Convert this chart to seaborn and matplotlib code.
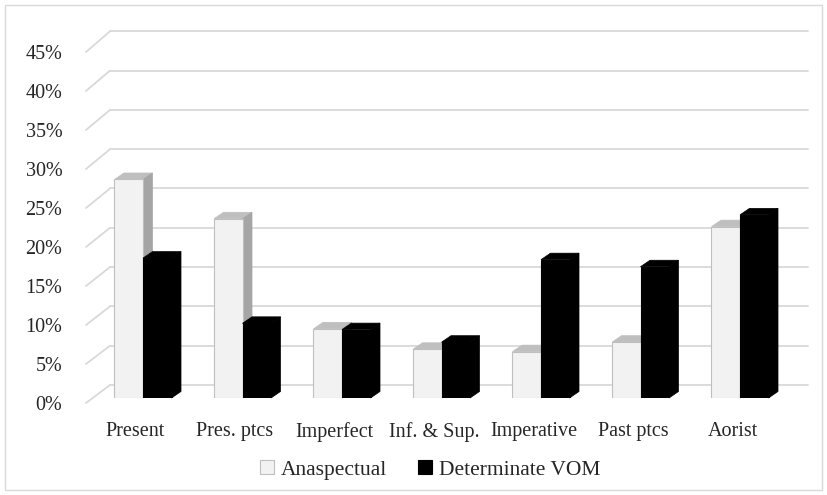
import matplotlib
matplotlib.use("Agg")
import matplotlib.pyplot as plt
import matplotlib.transforms as mtransforms
from matplotlib.patches import Polygon, Patch, Rectangle
import seaborn as sns
import pandas as pd

categories = ["Present", "Pres. ptcs", "Imperfect", "Inf. & Sup.", "Imperative", "Past ptcs", "Aorist"]
anaspectual = [27.8, 22.8, 8.8, 6.2, 5.9, 7.1, 21.8]
determinate = [17.8, 9.5, 8.7, 7.1, 17.6, 16.7, 23.3]
series_names = ["Anaspectual", "Determinate VOM"]
yticks = [0, 5, 10, 15, 20, 25, 30, 35, 40, 45]
ytick_labels = [f"{v}%" for v in yticks]

df = pd.DataFrame({
    "tense": categories * 2,
    "value": anaspectual + determinate,
    "type": [series_names[0]] * len(categories) + [series_names[1]] * len(categories),
})

sns.set_style("white")
plt.rcParams["font.family"] = ["Liberation Serif", "DejaVu Serif"]

W, H = 827, 495
fig = plt.figure(figsize=(W / 100, H / 100), dpi=100)
PX_PER_UNIT_Y = 7.86
PX_PER_CAT = 99.5
x0_px, x1_px = 86, 808
ybot_px = 398
ax = fig.add_axes([x0_px / W, (H - ybot_px) / H, (x1_px - x0_px) / W, 45 * PX_PER_UNIT_Y / H])

ana_col, det_col = "#f2f2f2", "#000000"
sns.barplot(data=df, x="tense", y="value", hue="type", order=categories,
            hue_order=series_names, palette={series_names[0]: ana_col, series_names[1]: det_col},
            width=0.573, dodge=True, ax=ax, legend=False, saturation=1)

xl = -(143 - x0_px) / PX_PER_CAT
xr = (len(categories) - 1) + (x1_px - (143 + (len(categories) - 1) * PX_PER_CAT)) / PX_PER_CAT
ax.set_xlim(xl, xr)
ax.set_ylim(0, 45)

# back wall & side wall gridlines
back_off = (ybot_px - 385) / PX_PER_UNIT_Y
x_back = xl + 24 / PX_PER_CAT
for v in yticks:
    yb = v + back_off
    yf = (ybot_px - (403 - 7.8 * v)) / PX_PER_UNIT_Y
    ax.plot([x_back, xr], [yb, yb], color="#d9d9d9", lw=1.3, clip_on=False, zorder=0.5)
    ax.plot([xl, x_back], [yf, yb], color="#d9d9d9", lw=1.3, clip_on=False, zorder=0.5)

# 3D faces
DX = 9.5 / PX_PER_CAT
DY = 6.5 / PX_PER_UNIT_Y
styles = [
    dict(front_edge="#bfbfbf", top="#bfbfbf", side="#a5a5a5", z=3),
    dict(front_edge="#000000", top="#000000", side="#000000", z=5),
]
for cont, st in zip(ax.containers, styles):
    for bar in cont:
        bx = bar.get_x(); bw = bar.get_width(); bh = bar.get_height()
        bar.set_edgecolor(st["front_edge"]); bar.set_linewidth(0.8); bar.set_zorder(st["z"])
        top = Polygon([(bx, bh), (bx + bw, bh), (bx + bw + DX, bh + DY), (bx + DX, bh + DY)],
                      closed=True, facecolor=st["top"], edgecolor=st["top"], lw=0.5,
                      zorder=st["z"] - 0.5, clip_on=False)
        side = Polygon([(bx + bw, 0), (bx + bw, bh), (bx + bw + DX, bh + DY), (bx + bw + DX, DY)],
                       closed=True, facecolor=st["side"], edgecolor=st["side"], lw=0.5,
                       zorder=st["z"] - 0.5, clip_on=False)
        ax.add_patch(top); ax.add_patch(side)

for s in ax.spines.values():
    s.set_visible(False)
ax.set_xlabel(""); ax.set_ylabel("")
ax.set_yticks(yticks)
ax.set_yticklabels(ytick_labels)
ax.tick_params(axis="y", length=0, pad=17, labelsize=14.5, labelcolor="#262626")
ax.tick_params(axis="x", length=0, pad=17, labelsize=14.5, labelcolor="#262626")
for v, lab in zip(yticks, ax.get_yticklabels()):
    off = -(5 + 2.7 * v / 45) / 100
    lab.set_transform(lab.get_transform() + mtransforms.ScaledTranslation(0, off, fig.dpi_scale_trans))
for lab in ax.get_xticklabels():
    lab.set_transform(lab.get_transform() + mtransforms.ScaledTranslation(-7.5 / 100, 0, fig.dpi_scale_trans))

handles = [Patch(facecolor=ana_col, edgecolor="#bfbfbf", lw=0.8),
           Patch(facecolor=det_col, edgecolor="#000000", lw=0.8)]
fig.legend(handles, series_names, loc="center", bbox_to_anchor=(430 / W, 1 - 470 / H), ncol=2,
           frameon=False, fontsize=15.5, handlelength=0.65, handleheight=0.65,
           handletextpad=0.35, columnspacing=1.4, labelcolor="#262626")

fig.patches.append(Rectangle((5 / W, 5 / H), (822 - 5) / W, (490 - 5) / H, transform=fig.transFigure,
                             fill=False, edgecolor="#d9d9d9", lw=1.0))

fig.savefig("out.png", dpi=100, facecolor="white")
